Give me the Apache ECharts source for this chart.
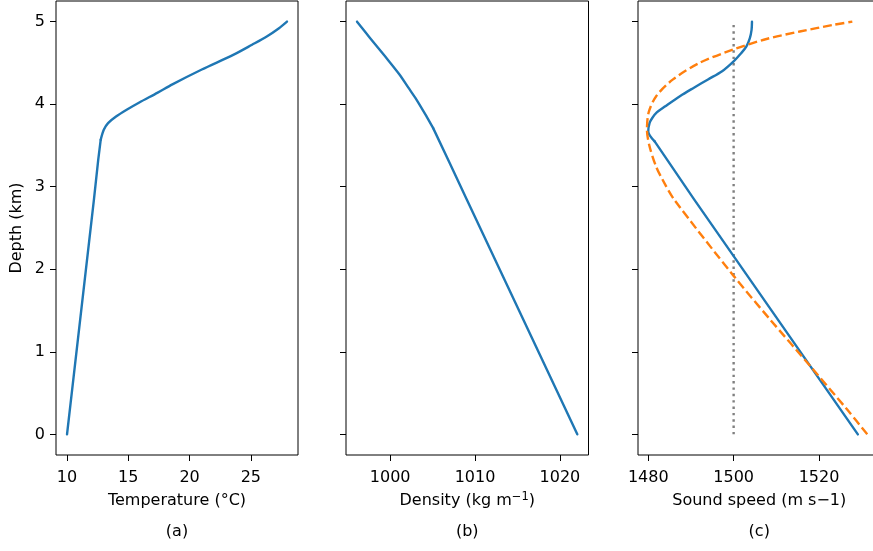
<!DOCTYPE html>
<html>
<head>
<meta charset="utf-8">
<script src="https://cdn.jsdelivr.net/npm/echarts@6/dist/echarts.min.js"></script>
<style>
html,body{margin:0;padding:0;background:#fff;}
#c{width:873px;height:551px;}
</style>
</head>
<body>
<div id="c"></div>
<script>
// ---- data ----
const depthTicks = [0, 1, 2, 3, 4, 5];
const tempTicks = [10, 15, 20, 25];
const densTicks = [1000, 1010, 1020];
const speedTicks = [1480, 1500, 1520];

const tempDepth = [0, 2.85, 3.33, 3.57, 3.69, 3.77, 3.85, 3.935, 4.02, 4.14, 4.24, 4.42, 4.60, 4.72, 4.82, 4.92, 5.0];
const tempValue = [10.0, 12.2, 12.55, 12.75, 13.0, 13.35, 14.0, 14.9, 15.9, 17.4, 18.6, 21.0, 23.6, 25.1, 26.3, 27.3, 27.95];

const densDepth = [0, 2.85, 3.29, 3.71, 3.85, 4.056, 4.2, 4.36, 4.58, 4.8, 5.0];
const densValue = [1022.05, 1009.0, 1007.0, 1005.07, 1004.3, 1003.1, 1002.15, 1001.1, 999.4, 997.65, 996.1];

const speedDepth = [0, 2.85, 3.55, 3.67, 3.77, 3.83, 3.9, 3.975, 4.10, 4.20, 4.30, 4.40, 4.52, 4.62, 4.70, 4.80, 4.90, 5.0];
const speedValue = [1529.1, 1490.7, 1481.5, 1480.0, 1480.3, 1480.9, 1482.0, 1484.0, 1487.5, 1490.7, 1494.0, 1497.3, 1500.0, 1501.8, 1503.0, 1503.8, 1504.2, 1504.3];

const munkDepth = [0, 0.3, 0.8, 1.4, 1.92, 2.85, 3.09, 3.25, 3.49, 3.69, 3.9, 4.10, 4.30, 4.50, 4.66, 4.79, 4.88, 4.96, 5.0];
const munkValue = [1531.3, 1526.6, 1518.4, 1508.4, 1500.0, 1486.0, 1483.3, 1481.8, 1480.3, 1479.7, 1480.1, 1481.9, 1485.8, 1492.0, 1499.8, 1507.7, 1515.5, 1523.3, 1527.8];

const refSpeed = 1500;
const refDepth = [0, 5];

const panelLabels = ['(a)', '(b)', '(c)'];
const xNames = ['Temperature (°C)', 'Density (kg m{sup|\u22121})', 'Sound speed (m s\u22121)'];
const yName = 'Depth (km)';

// ---- chart ----
function pairs(xs, ds) { return xs.map((x, i) => [x, ds[i]]); }
// split a profile at a knee depth: straight part below, curved part above
function lower(xs, ds, knee) { return pairs(xs, ds).filter(p => p[1] <= knee); }
function upper(xs, ds, knee) { return pairs(xs, ds).filter(p => p[1] >= knee); }

const FONT = 'DejaVu Sans';
const FS = 16;
const grids = [
  { left: 56, top: 1, width: 242, height: 454 },
  { left: 346, top: 1, width: 242.5, height: 454 },
  { left: 638, top: 1, width: 242.5, height: 454 }
].map(g => Object.assign(g, {
  show: true, borderColor: '#000', borderWidth: 1, backgroundColor: 'transparent',
  outerBoundsMode: 'none', containLabel: false
}));

const xRanges = [[9.1, 28.85], [994.8, 1023.37], [1477.6, 1534.4]];
const xTicks = [tempTicks, densTicks, speedTicks];

const xAxes = xRanges.map((r, i) => ({
  type: 'value', gridIndex: i, min: r[0], max: r[1],
  name: xNames[i], nameLocation: 'middle', nameGap: 36,
  nameTextStyle: { fontFamily: FONT, fontSize: FS, color: '#000', lineHeight: 20,
    rich: { sup: { fontFamily: FONT, fontSize: 11.5, color: '#000', lineHeight: 20, verticalAlign: 'top', padding: [0, 0, 8, 0] } } },
  axisLine: { show: false, onZero: false },
  splitLine: { show: false },
  axisTick: { show: true, inside: false, length: 6, customValues: xTicks[i], lineStyle: { color: '#000', width: 1 } },
  axisLabel: { show: true, customValues: xTicks[i], margin: 15, fontFamily: FONT, fontSize: FS, color: '#000',
    formatter: v => String(v) }
}));

const yAxes = [0, 1, 2].map(i => ({
  type: 'value', gridIndex: i, min: -0.25, max: 5.25,
  name: i === 0 ? yName : '', nameLocation: 'middle', nameGap: 31,
  nameTextStyle: { fontFamily: FONT, fontSize: FS, color: '#000' },
  axisLine: { show: false, onZero: false },
  splitLine: { show: false },
  axisTick: { show: true, inside: false, length: 6, customValues: depthTicks, lineStyle: { color: '#000', width: 1 } },
  axisLabel: { show: i === 0, customValues: depthTicks, margin: 11, fontFamily: FONT, fontSize: FS, color: '#000',
    formatter: v => String(v) }
}));

const blue = '#1f77b4', orange = '#ff7f0e';
const base = { type: 'line', symbol: 'none', showSymbol: false, animation: false, silent: true };
const blueStyle = { color: blue, width: 2.4, cap: 'round', join: 'round' };

const series = [
  Object.assign({}, base, { xAxisIndex: 0, yAxisIndex: 0, data: lower(tempValue, tempDepth, 3.57), lineStyle: blueStyle }),
  Object.assign({}, base, { xAxisIndex: 0, yAxisIndex: 0, data: upper(tempValue, tempDepth, 3.57), smooth: 0.3, lineStyle: blueStyle }),
  Object.assign({}, base, { xAxisIndex: 1, yAxisIndex: 1, data: lower(densValue, densDepth, 3.71), lineStyle: blueStyle }),
  Object.assign({}, base, { xAxisIndex: 1, yAxisIndex: 1, data: upper(densValue, densDepth, 3.71), smooth: 0.3, lineStyle: blueStyle }),
  Object.assign({}, base, { xAxisIndex: 2, yAxisIndex: 2, data: refDepth.map(d => [refSpeed, d]),
    lineStyle: { color: '#808080', width: 2.4, type: [2.4, 3.96], cap: 'butt' } }),
  Object.assign({}, base, { xAxisIndex: 2, yAxisIndex: 2, data: lower(speedValue, speedDepth, 3.55), lineStyle: blueStyle }),
  Object.assign({}, base, { xAxisIndex: 2, yAxisIndex: 2, data: upper(speedValue, speedDepth, 3.55), smooth: 0.3, lineStyle: blueStyle }),
  Object.assign({}, base, { xAxisIndex: 2, yAxisIndex: 2, data: pairs(munkValue, munkDepth), smooth: 0.3,
    lineStyle: { color: orange, width: 2.4, type: [8.9, 3.85], cap: 'butt' } })
];

const centers = grids.map(g => g.left + g.width / 2);
const graphic = panelLabels.map((t, i) => ({
  type: 'text', x: centers[i], y: 532,
  style: { text: t, fontFamily: FONT, fontSize: FS, fill: '#000', textAlign: 'center', textVerticalAlign: 'middle' }
}));

const chart = echarts.init(document.getElementById('c'), null, { renderer: 'canvas' });
chart.setOption({
  animation: false,
  backgroundColor: '#fff',
  grid: grids,
  xAxis: xAxes,
  yAxis: yAxes,
  series: series,
  graphic: graphic
});
</script>
</body>
</html>
